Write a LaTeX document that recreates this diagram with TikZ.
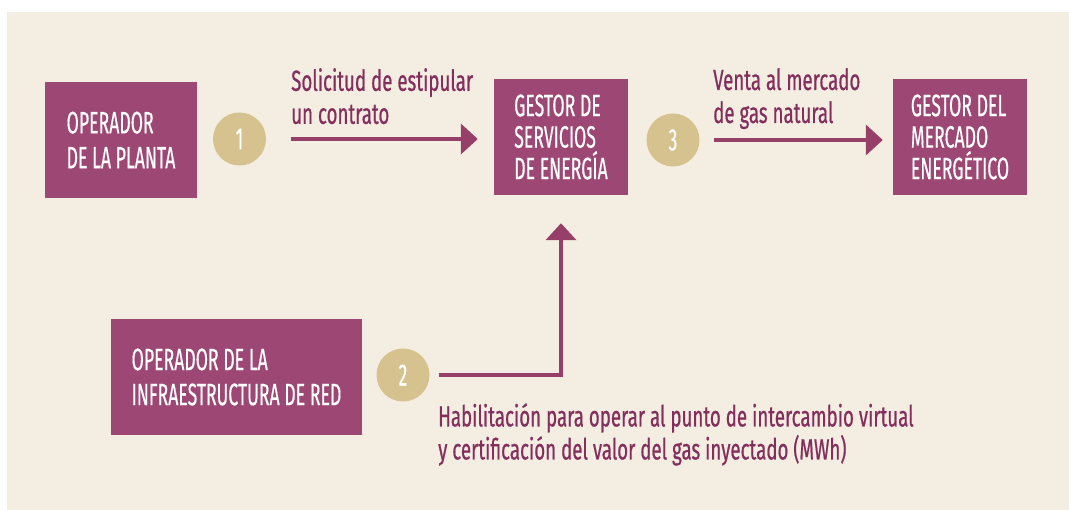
\documentclass[tikz,border=0pt]{standalone}
\usepackage{fontspec}
\setmainfont[FakeStretch=0.645,FakeBold=0.6]{Fira Sans}
\newfontfamily\cajafont[FakeStretch=0.57,FakeBold=0.4]{Fira Sans}
\usetikzlibrary{arrows.meta}
\definecolor{fondo}{HTML}{F4EDE2}
\definecolor{caja}{HTML}{9D4874}
\definecolor{flecha}{HTML}{953F69}
\definecolor{texto}{HTML}{832E5C}
\definecolor{paso}{HTML}{D6C28E}
\tikzset{
  actor/.style={fill=caja, text=white, align=left, minimum width=#1,
    minimum height=116pt, inner sep=0pt, font=\cajafont\fontsize{31}{35}\selectfont},
  apretado/.style={font=\cajafont\fontsize{31}{31.5}\selectfont},
  paso/.style={circle, fill=paso, text=white, minimum size=53pt, inner sep=0pt,
    font=\cajafont\fontsize{31}{33}\selectfont},
  flujo/.style={draw=flecha, line width=4pt,
    -{Triangle[length=17pt, width=30pt]}},
  nota/.style={text=texto, align=left, anchor=north west, inner sep=0pt,
    font=\fontsize{29}{33}\selectfont}
}
\begin{document}
\begin{tikzpicture}[x=1pt,y=-1pt]
  \useasboundingbox (0,0) rectangle (1069,510);
  \fill[fondo] (7,12) rectangle (1069,510);

  \node[actor=152pt] (planta) at (121,140) {OPERADOR\\DE LA PLANTA};
  \node[actor=134pt, apretado] (gestor) at (561,137) {GESTOR DE\\SERVICIOS\\DE ENERGÍA};
  \node[actor=134pt, apretado] (mercado) at (960,137) {GESTOR DEL\\MERCADO\\ENERGÉTICO};
  \node[actor=251pt] (red) at (236.5,377) {OPERADOR DE LA\\INFRAESTRUCTURA DE RED};

  \node[paso] (uno) at (239.5,139) {1};
  \node[paso] (dos) at (403,375) {2};
  \node[paso] (tres) at (673,140) {3};

  \draw[flujo, shorten <=25pt, shorten >=16pt] (uno.east) -- (uno.east -| gestor.west);
  \draw[flujo, shorten <=14pt, shorten >=10pt] (tres.east) -- (tres.east -| mercado.west);
  \draw[flujo, shorten <=9pt, shorten >=28pt] (dos.east) -| (gestor.south);

  \node[nota] (solicitud) at (291,68) {Solicitud de estipular\\un contrato};
  \node[nota] (venta) at (713,68) {Venta al mercado\\de gas natural};
  \node[nota] (habilitacion) at (438,403) {Habilitación para operar al punto de intercambio virtual\\y certificación del valor del gas inyectado (MWh)};
\end{tikzpicture}
\end{document}
